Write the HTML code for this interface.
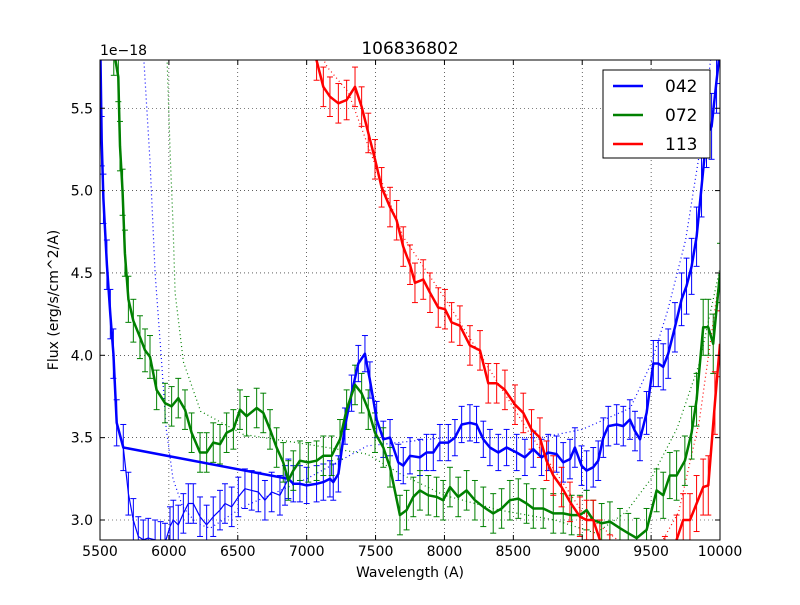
<!DOCTYPE html>
<html><head><meta charset="utf-8"><style>
body{margin:0;background:#fff;}
svg text{font-family:"DejaVu Sans","Liberation Sans",sans-serif;}
</style></head><body>
<svg id="chart" width="800" height="600" viewBox="0 0 800 600" xmlns="http://www.w3.org/2000/svg">
<rect width="800" height="600" fill="#fff"/>
<defs><clipPath id="clip"><rect x="100" y="60" width="620" height="480"/></clipPath></defs>
<g id="grid"></g>
<g id="plot" clip-path="url(#clip)"></g>
<rect x="100" y="60" width="620" height="480" fill="none" stroke="#000" stroke-width="1"/>
<g id="ticks"></g>
<text x="410" y="54" font-size="17" text-anchor="middle">106836802</text>
<text x="100" y="55" font-size="14">1e−18</text>
<text x="410" y="577" font-size="14" text-anchor="middle">Wavelength (A)</text>
<text x="58" y="300" font-size="14" text-anchor="middle" transform="rotate(-90 58 300)">Flux (erg/s/cm^2/A)</text>
<g>
<rect x="603" y="70" width="107" height="88" fill="#fff" stroke="#000"/>
<g><line x1="613" y1="86" x2="643" y2="86" stroke="#0000ff" stroke-width="2.5"/><text x="665" y="92" font-size="17">042</text></g>
<g><line x1="613" y1="115" x2="643" y2="115" stroke="#008000" stroke-width="2.5"/><text x="665" y="121" font-size="17">072</text></g>
<g><line x1="613" y1="144" x2="643" y2="144" stroke="#ff0000" stroke-width="2.5"/><text x="665" y="150" font-size="17">113</text></g>
</g>
</svg>
<script>
const xTicks=[5500,6000,6500,7000,7500,8000,8500,9000,9500,10000];
const yTicks=[3.0,3.5,4.0,4.5,5.0,5.5];
const yTickLabels=["3.0","3.5","4.0","4.5","5.0","5.5"];

const blueX=[5500,5512,5525,5550,5575,5597,5621,5669,5706,5742,5778,5814,5850,5900,5940,5972,6008,6032,6068,6105,6141,6177,6226,6274,6322,6371,6407,6456,6504,6552,6601,6649,6697,6746,6806,6843,6867,6903,6951,7000,7072,7121,7169,7193,7230,7278,7326,7375,7423,7459,7508,7556,7605,7665,7701,7750,7822,7870,7919,7967,8028,8076,8125,8185,8233,8282,8330,8391,8451,8524,8584,8645,8705,8753,8814,8862,8911,8947,8995,9032,9080,9116,9153,9189,9250,9298,9346,9383,9419,9467,9516,9552,9588,9624,9673,9721,9757,9794,9830,9866,9902,9939,9975,10000];
const blueY=[6.0,5.3,4.95,4.55,4.25,4.01,3.59,3.44,3.16,3.0,2.9,2.88,2.89,2.88,2.87,2.86,2.96,3.0,2.97,3.04,3.10,3.10,3.02,2.97,3.02,3.06,3.10,3.08,3.14,3.19,3.18,3.17,3.12,3.17,3.15,3.21,3.25,3.22,3.22,3.21,3.22,3.23,3.25,3.23,3.28,3.57,3.77,3.95,4.01,3.85,3.61,3.49,3.50,3.35,3.33,3.39,3.38,3.41,3.41,3.47,3.47,3.50,3.58,3.59,3.58,3.49,3.44,3.41,3.44,3.41,3.38,3.43,3.38,3.41,3.40,3.35,3.37,3.44,3.33,3.30,3.32,3.36,3.50,3.57,3.58,3.57,3.61,3.54,3.49,3.65,3.95,3.95,3.93,4.01,4.17,4.34,4.42,4.54,4.72,5.02,5.33,5.39,5.67,5.85];
const blueErr=[0.15,0.15,0.15,0.15,0.15,0.15,0.14,0.14,0.13,0.13,0.12,0.12,0.12,0.12,0.12,0.12,0.12,0.12,0.12,0.12,0.12,0.12,0.12,0.12,0.12,0.12,0.12,0.12,0.12,0.12,0.12,0.12,0.12,0.12,0.12,0.12,0.12,0.11,0.11,0.11,0.11,0.11,0.11,0.11,0.11,0.11,0.11,0.11,0.11,0.11,0.11,0.11,0.11,0.11,0.11,0.11,0.11,0.11,0.11,0.11,0.11,0.11,0.11,0.11,0.11,0.11,0.11,0.11,0.11,0.11,0.11,0.11,0.11,0.11,0.11,0.12,0.12,0.12,0.12,0.12,0.12,0.12,0.12,0.12,0.12,0.12,0.12,0.12,0.13,0.13,0.14,0.14,0.14,0.15,0.15,0.16,0.17,0.17,0.18,0.18,0.19,0.2,0.2,0.2];
const blueThick=[1,1,1,1,1,1,1,1,0,0,0,0,0,0,0,0,0,0,0,0,0,0,0,0,0,0,0,0,0,0,0,0,0,0,0,0,1,1,1,1,1,1,1,1,1,1,1,1,1,1,1,1,1,1,1,1,1,1,1,1,1,1,1,1,1,1,1,1,1,1,1,1,1,1,1,1,1,1,1,1,1,1,1,1,1,1,1,1,1,1,1,1,1,1,1,1,1,1,1,1,1,1,1,1];

const greenX=[5600,5633,5645,5664,5681,5706,5742,5790,5827,5863,5911,5972,6020,6068,6117,6165,6226,6274,6322,6371,6419,6468,6516,6564,6637,6685,6734,6782,6830,6867,6903,6951,7012,7072,7121,7181,7242,7290,7351,7399,7447,7496,7556,7605,7677,7725,7774,7822,7883,7943,7991,8040,8100,8161,8221,8282,8354,8415,8475,8536,8596,8645,8717,8790,8862,8923,8983,9032,9080,9141,9201,9274,9334,9395,9467,9540,9588,9636,9685,9745,9794,9830,9878,9915,9951,10000];
const greenY=[5.85,5.69,5.27,4.99,4.62,4.34,4.21,4.11,4.03,3.99,3.79,3.71,3.69,3.74,3.67,3.53,3.41,3.41,3.47,3.46,3.53,3.55,3.67,3.63,3.68,3.65,3.55,3.44,3.35,3.24,3.30,3.36,3.35,3.36,3.39,3.39,3.49,3.67,3.82,3.77,3.67,3.53,3.44,3.32,3.03,3.06,3.14,3.18,3.15,3.14,3.12,3.20,3.14,3.18,3.12,3.08,3.04,3.07,3.12,3.13,3.10,3.07,3.07,3.04,3.04,3.03,3.03,3.06,3.0,2.98,2.99,2.95,2.92,2.89,2.94,3.18,3.15,3.27,3.27,3.36,3.53,3.73,4.17,4.17,4.07,4.50];
const greenErr=[0.15,0.15,0.15,0.14,0.14,0.14,0.13,0.13,0.13,0.13,0.12,0.12,0.12,0.12,0.12,0.12,0.12,0.12,0.12,0.12,0.12,0.12,0.12,0.12,0.12,0.12,0.12,0.12,0.12,0.12,0.12,0.12,0.12,0.12,0.12,0.12,0.12,0.12,0.12,0.12,0.12,0.12,0.12,0.12,0.12,0.12,0.12,0.12,0.12,0.12,0.12,0.12,0.12,0.12,0.12,0.12,0.12,0.12,0.12,0.12,0.12,0.12,0.12,0.12,0.12,0.12,0.12,0.12,0.12,0.12,0.12,0.12,0.12,0.12,0.13,0.13,0.14,0.14,0.15,0.15,0.16,0.16,0.17,0.17,0.18,0.18];

const redX=[7000,7072,7121,7169,7230,7290,7351,7399,7447,7496,7544,7605,7653,7701,7750,7786,7846,7895,7955,8004,8052,8112,8185,8258,8318,8379,8439,8512,8572,8632,8693,8741,8790,8850,8911,8983,9032,9080,9128,9200,9300,9400,9500,9600,9685,9733,9782,9830,9878,9915,9963,10000];
const redY=[6.0,5.79,5.63,5.57,5.53,5.55,5.63,5.51,5.35,5.19,5.02,4.90,4.82,4.66,4.55,4.44,4.46,4.38,4.29,4.28,4.20,4.18,4.06,4.03,3.83,3.83,3.79,3.70,3.65,3.55,3.50,3.36,3.27,3.20,3.11,3.02,3.0,3.0,2.88,2.78,2.7,2.65,2.68,2.75,2.88,3.0,3.0,3.10,3.20,3.21,3.71,4.07];
const redErr=[0.12,0.12,0.12,0.12,0.12,0.12,0.12,0.12,0.12,0.12,0.12,0.12,0.12,0.12,0.12,0.12,0.12,0.12,0.12,0.12,0.12,0.12,0.12,0.12,0.12,0.12,0.12,0.12,0.12,0.12,0.12,0.12,0.12,0.12,0.12,0.12,0.12,0.12,0.12,0.13,0.13,0.14,0.14,0.15,0.15,0.16,0.16,0.17,0.17,0.18,0.19,0.2];

const blueModelX=[5814,5840,5863,5900,5947,5980,6030,6100,6200,6300,6540,7000,7440,8000,8700,9000,9350,9500,9620,9750,9850,9940];
const blueModelY=[5.85,5.5,5.18,4.5,3.96,3.56,3.25,3.08,2.98,2.95,3.08,3.25,3.45,3.5,3.5,3.55,3.68,3.95,4.27,4.7,5.22,5.85];
const greenModelX=[5985,6010,6030,6045,6105,6230,6540,7000,7440,7680,8000,8400,8800,9100,9320,9500,9690,9850,10000];
const greenModelY=[5.85,5.2,4.8,4.38,3.96,3.66,3.52,3.46,3.40,3.28,3.15,3.06,3.0,2.92,3.05,3.25,3.56,3.95,4.53];
const redModelX=[7000,7150,7300,7500,7700,8000,8300,8600,8800,9000,9300,9500,9700,9850,10000];
const redModelY=[6.0,5.75,5.6,5.15,4.72,4.35,3.95,3.55,3.3,3.05,2.85,2.75,3.05,3.6,4.5];

const NS="http://www.w3.org/2000/svg";
function xs(v){return 100+(v-5500)*620/4500;}
function ys(v){return 520-(v-3)*164.7;}
function mk(tag,attrs,parent){const e=document.createElementNS(NS,tag);for(const k in attrs)e.setAttribute(k,attrs[k]);parent.appendChild(e);return e;}
const grid=document.getElementById('grid'),plot=document.getElementById('plot'),ticks=document.getElementById('ticks');

xTicks.forEach(t=>{const x=xs(t);
 if(t>5500&&t<10000){const g=mk('line',{x1:x,y1:60,x2:x,y2:540,stroke:'#000','stroke-width':0.6,'stroke-dasharray':'1,3'},grid);
 
 }
 mk('line',{x1:x,y1:540,x2:x,y2:535,stroke:'#000'},ticks);
 mk('line',{x1:x,y1:60,x2:x,y2:65,stroke:'#000'},ticks);
 const tl=mk('text',{x:x,y:556,'font-size':14,'text-anchor':'middle'},ticks);tl.textContent=t;
 
 
});
yTicks.forEach((t,i)=>{const y=ys(t);
 const g=mk('line',{x1:100,y1:y,x2:720,y2:y,stroke:'#000','stroke-width':0.6,'stroke-dasharray':'1,3'},grid);
 
 
 mk('line',{x1:100,y1:y,x2:105,y2:y,stroke:'#000'},ticks);
 mk('line',{x1:720,y1:y,x2:715,y2:y,stroke:'#000'},ticks);
 const tl=mk('text',{x:93,y:y+5,'font-size':14,'text-anchor':'end'},ticks);tl.textContent=yTickLabels[i];
 
 
});

function pts(X,Y,flags){const a=[];X.forEach((x,i)=>{if(!flags||flags[i])a.push(xs(x).toFixed(1)+','+ys(Y[i]).toFixed(1));});return a.join(' ');}
function model(X,Y,color,name){const p=mk('polyline',{points:pts(X,Y),fill:'none',stroke:color,'stroke-width':1.2,'stroke-dasharray':'1,3'},plot);
 
 }
function errs(X,Y,E,color,name){const g=mk('g',{},plot);
 
 
 X.forEach((x,i)=>{const px=xs(x),a=ys(Y[i]+E[i]),b=ys(Y[i]-E[i]);
  mk('line',{x1:px,y1:a,x2:px,y2:b,stroke:color,'stroke-width':1},g);
  mk('line',{x1:px-3,y1:a,x2:px+3,y2:a,stroke:color,'stroke-width':1},g);
  mk('line',{x1:px-3,y1:b,x2:px+3,y2:b,stroke:color,'stroke-width':1},g);});}
function line(X,Y,flags,color,w,name){const p=mk('polyline',{points:pts(X,Y,flags),fill:'none',stroke:color,'stroke-width':w,'stroke-linejoin':'round'},plot);
 
 }

model(blueModelX,blueModelY,'#0000ff','model-042');
model(greenModelX,greenModelY,'#008000','model-072');
model(redModelX,redModelY,'#ff0000','model-113');
errs(blueX,blueY,blueErr,'#0000ff','errorbars-042');
line(blueX,blueY,null,'#0000ff',1.2,'raw-line-042');
errs(greenX,greenY,greenErr,'#008000','errorbars-072');
errs(redX,redY,redErr,'#ff0000','errorbars-113');
line(blueX,blueY,blueThick,'#0000ff',2.5,'series-042');
line(greenX,greenY,null,'#008000',2.5,'series-072');
line(redX,redY,null,'#ff0000',2.5,'series-113');
</script>
</body></html>
